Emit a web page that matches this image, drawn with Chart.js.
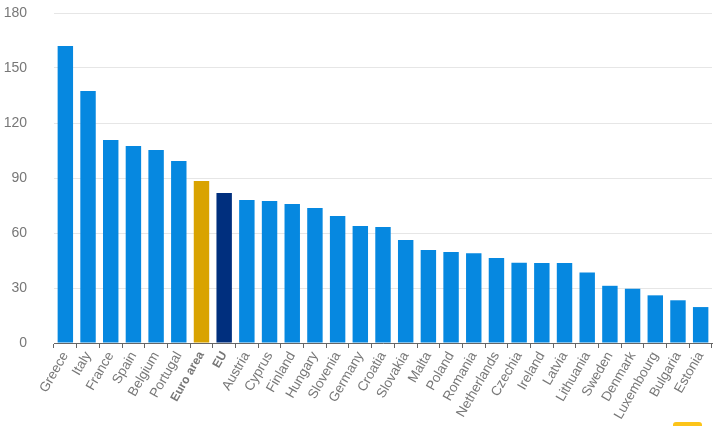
<!DOCTYPE html>
<html>
<head>
<meta charset="utf-8">
<script src="https://cdn.jsdelivr.net/npm/chart.js@4/dist/chart.umd.min.js"></script>
<style>
html, body { margin: 0; padding: 0; background: #fff; overflow: hidden; }
#wrap { position: relative; width: 720px; height: 426px; }
#badge { position: absolute; left: 673px; top: 422px; width: 29px; height: 4px; background: #fcc419; border-radius: 3px 3px 0 0; }
</style>
</head>
<body>
<div id="wrap">
<canvas id="chart_canvas" width="720" height="426"></canvas>
<div id="badge"></div>
</div>
<script>
const categories = ['Greece', 'Italy', 'France', 'Spain', 'Belgium', 'Portugal', 'Euro area', 'EU', 'Austria', 'Cyprus',
    'Finland', 'Hungary', 'Slovenia', 'Germany', 'Croatia', 'Slovakia', 'Malta', 'Poland', 'Romania', 'Netherlands',
    'Czechia', 'Ireland', 'Latvia', 'Lithuania', 'Sweden', 'Denmark', 'Luxembourg', 'Bulgaria', 'Estonia'];
const debtValues = [162, 137.5, 110.7, 107.5, 105.3, 99.3, 88.4, 81.8, 78, 77.5,
    75.8, 73.6, 69.3, 63.8, 63.3, 56.2, 50.7, 49.6, 49, 46.4,
    43.8, 43.7, 43.6, 38.4, 31.2, 29.6, 26, 23.3, 19.6];
const yTicks = [0, 30, 60, 90, 120, 150, 180];
const highlighted = { 'Euro area': '#d9a300', 'EU': '#002f7e' };

const fontName = '"Liberation Sans", Arial, sans-serif';
const barColors = categories.map(c => highlighted[c] || '#0688e0');

var ctx = document.getElementById('chart_canvas').getContext('2d');
var myChart = new Chart(ctx, {
    type: 'bar',
    data: {
        labels: categories,
        datasets: [{
            data: debtValues,
            backgroundColor: barColors,
            barPercentage: 0.68,
            categoryPercentage: 1
        }]
    },
    options: {
        responsive: false,
        animation: false,
        layout: { padding: { top: 13, right: 8, left: 0, bottom: 0 } },
        plugins: { legend: { display: false }, tooltip: { enabled: false } },
        scales: {
            x: {
                grid: { drawOnChartArea: false, drawTicks: true, tickLength: 5, tickColor: '#666', offset: true },
                border: { color: '#666', width: 1 },
                ticks: {
                    autoSkip: false,
                    minRotation: 60,
                    maxRotation: 60,
                    padding: 1,
                    color: '#777',
                    font: function (c) {
                        var name = categories[c.index];
                        if (highlighted[name]) {
                            return { family: fontName, size: 12, weight: 'bold' };
                        }
                        return { family: fontName, size: 13.5 };
                    }
                },
                afterFit: function (scale) { scale.height = 83; }
            },
            y: {
                min: 0,
                max: 180,
                afterBuildTicks: function (scale) { scale.ticks = yTicks.map(v => ({ value: v })); },
                grid: { color: '#e6e6e6', drawTicks: false },
                border: { display: false },
                ticks: {
                    color: '#777',
                    padding: 27,
                    font: { family: fontName, size: 14 }
                },
                // tick padding also pushes the plot top down, so clear it here
                afterFit: function (scale) {
                    scale.width = 54;
                    scale.paddingTop = 0;
                    scale.paddingBottom = 0;
                }
            }
        }
    }
});
</script>
</body>
</html>
